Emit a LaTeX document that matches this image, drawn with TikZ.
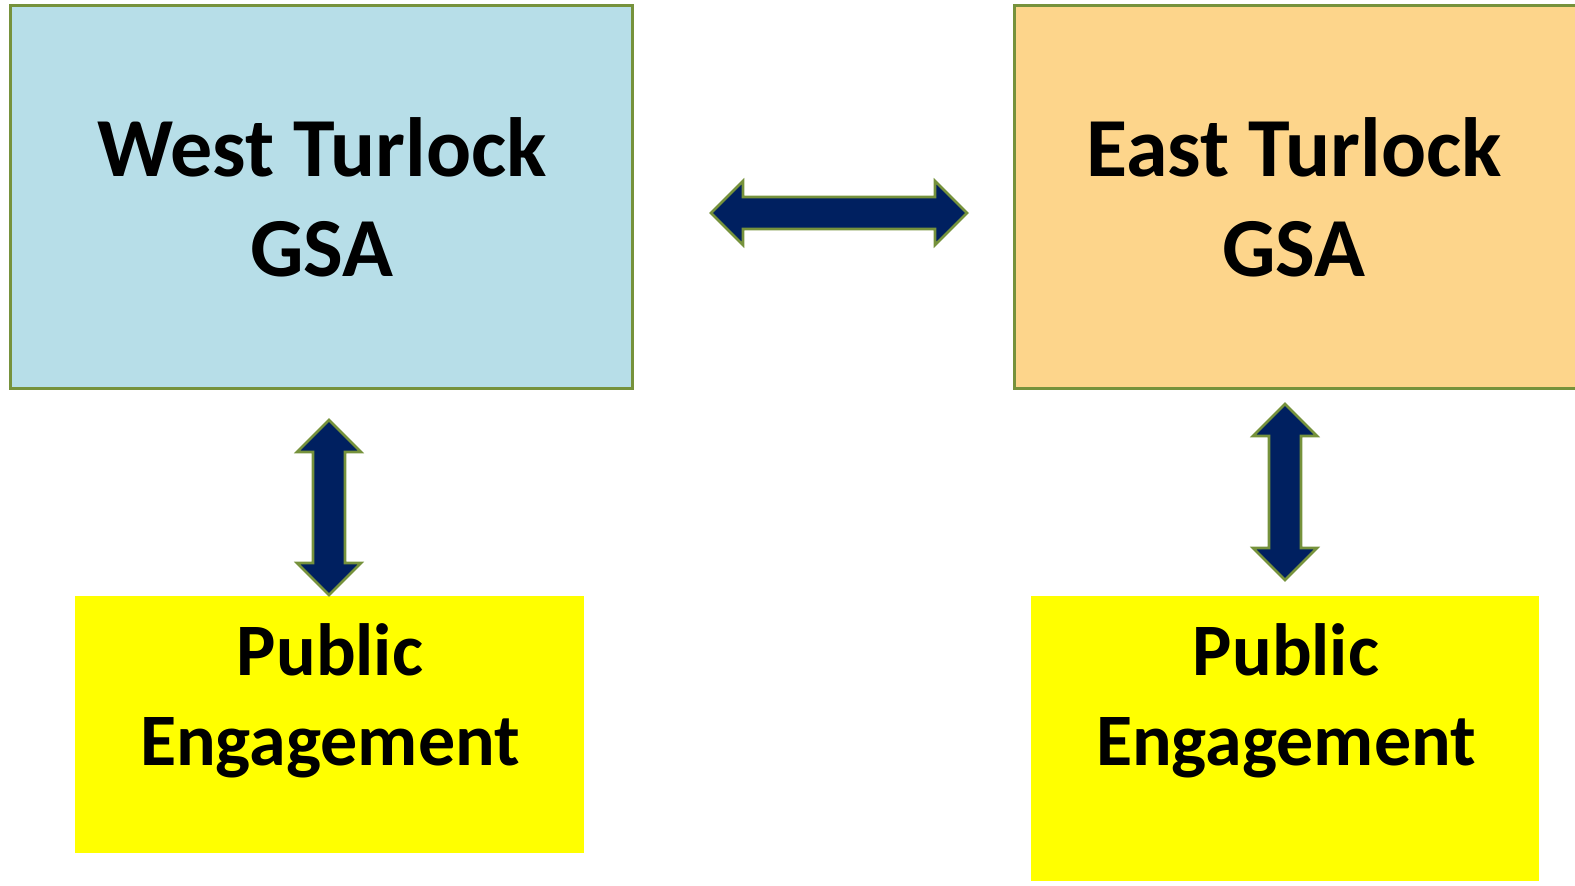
\documentclass[tikz,border=0pt]{standalone}
\usepackage{fontspec}
\setmainfont{Carlito}
\definecolor{westblue}{HTML}{B7DEE8}
\definecolor{eastorange}{HTML}{FDD58B}
\definecolor{pubyellow}{HTML}{FFFF00}
\definecolor{olivegreen}{HTML}{76923C}
\definecolor{navy}{HTML}{002060}
\tikzset{
  gsabox/.style={draw=olivegreen, line width=1.5pt},
  pubbox/.style={fill=pubyellow, draw=none},
  bigtext/.style={font=\fontsize{42}{50}\selectfont\bfseries, align=center, text=black},
  pubtext/.style={font=\fontsize{37}{45}\selectfont\bfseries, align=center, text=black},
  blockarrow/.style={fill=navy, draw=olivegreen, line width=1.3pt, line join=miter}
}
\begin{document}
\begin{tikzpicture}[x=0.5pt, y=-0.5pt]
\useasboundingbox (0,0) rectangle (1575,885);
\begin{scope}
\clip (0,0) rectangle (1575,885);
% boxes
\path[gsabox, fill=westblue] (10,5) rectangle (632,388);
\path[gsabox, fill=eastorange] (1014,5) rectangle (1590,388);
\path[pubbox] (75,596) rectangle (584,853);
\path[pubbox] (1031,596) rectangle (1539,881);
\end{scope}
\node[bigtext] (west) at (322,197) {West Turlock\\GSA};
\node[bigtext] (east) at (1294,197) {East Turlock\\GSA};
\node[pubtext] (pubw) at (330,701) {Public\\Engagement};
\node[pubtext] (pube) at (1286,701) {Public\\Engagement};
% horizontal double arrow
\draw[blockarrow] (711,213) -- (743,181) -- (743,197) -- (935,197) -- (935,181) -- (967,213)
  -- (935,245) -- (935,229) -- (743,229) -- (743,245) -- cycle;
% left vertical double arrow
\draw[blockarrow] (329,420) -- (361,452) -- (345,452) -- (345,563) -- (361,563) -- (329,595)
  -- (297,563) -- (313,563) -- (313,452) -- (297,452) -- cycle;
% right vertical double arrow
\draw[blockarrow] (1285,404) -- (1317,436) -- (1301,436) -- (1301,548) -- (1317,548) -- (1285,580)
  -- (1253,548) -- (1269,548) -- (1269,436) -- (1253,436) -- cycle;
\end{tikzpicture}
\end{document}
